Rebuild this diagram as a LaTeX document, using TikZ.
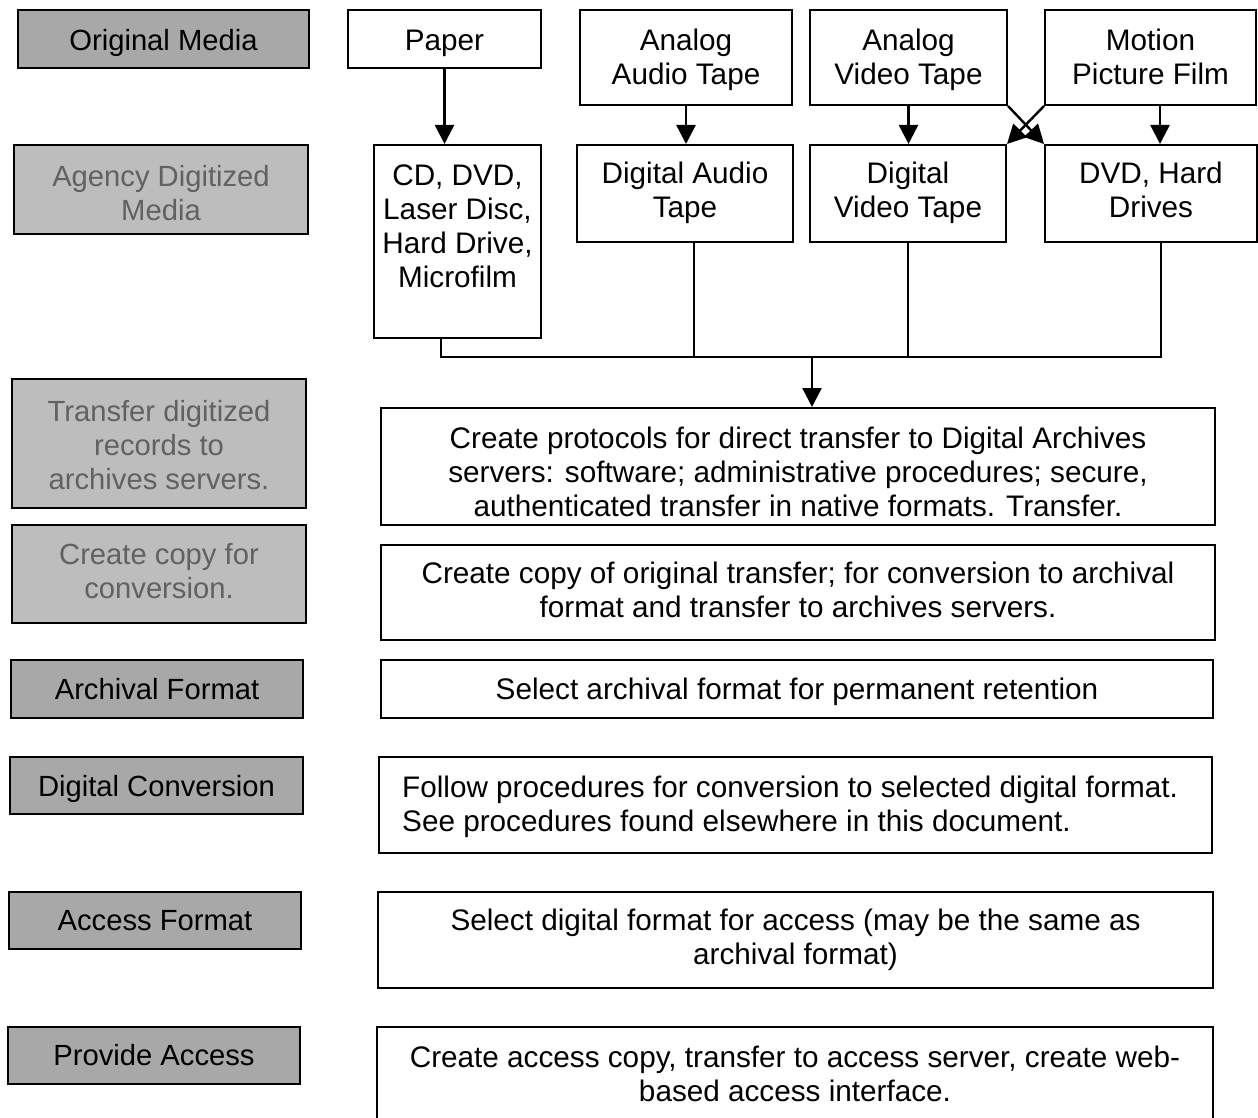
\documentclass[tikz,border=0pt]{standalone}
\usepackage{fontspec}
\setmainfont{Liberation Sans}
\usetikzlibrary{arrows.meta,calc}

\definecolor{labelfill}{gray}{0.66}
\definecolor{labelfilllight}{gray}{0.74}

% struts that give every text block the same height above its first line
% and depth below its last line, so that blocks centre evenly in their boxes
\newcommand\hstrut[1][28pt]{\rule{0pt}{#1}}
\newcommand\dstrut{\rule[-7pt]{0pt}{7pt}}

\tikzset{
  txt/.style={font=\fontsize{29.7pt}{34pt}\selectfont, align=center, inner sep=0pt},
  box/.style={txt, draw=black, line width=2pt, fill=white},
  stage/.style={txt, font=\fontsize{29.2pt}{34pt}\selectfont, draw=black, line width=2pt,
                fill=labelfill, text=black},
  stagelight/.style={stage, fill=labelfilllight, text=black!62},
  wire/.style={draw=black, line width=2.4pt},
  arr/.style={wire, -{Triangle[length=19pt,width=19pt]}},
}

\begin{document}
\begin{tikzpicture}[x=1pt,y=-1pt]
\clip (0,0) rectangle (1258,1118);
\fill[white] (0,0) rectangle (1258,1118);

% ---- stage labels (left column)
\node[stage, minimum width=291pt, minimum height=58pt] (s1) at (163.5,39) {\hstrut[30pt]Original Media\dstrut};
\node[stagelight, minimum width=294pt, minimum height=89pt] (s2) at (161,189.5) {\hstrut[35pt]Agency Digitized\\Media\dstrut};
\node[stagelight, minimum width=294pt, minimum height=129pt] (s3) at (159,443.5) {\hstrut[31pt]Transfer digitized\\records to\\archives servers.\dstrut};
\node[stagelight, minimum width=294pt, minimum height=98pt] (s4) at (159,574) {\hstrut[22pt]Create copy for\\conversion.\dstrut};
\node[stage, minimum width=292pt, minimum height=58pt] (s5) at (157,689) {\hstrut Archival Format\dstrut};
\node[stage, minimum width=293pt, minimum height=57pt] (s6) at (156.5,785.5) {\hstrut Digital Conversion\dstrut};
\node[stage, minimum width=292pt, minimum height=57pt] (s7) at (155,920.5) {\hstrut[26pt]Access Format\dstrut};
\node[stage, minimum width=292pt, minimum height=57pt] (s8) at (154,1055.5) {\hstrut[26pt]Provide Access\dstrut};

% ---- original media
\node[box, minimum width=193pt, minimum height=58pt] (paper) at (444.5,39) {\hstrut[30pt]Paper\dstrut};
\node[box, minimum width=212pt, minimum height=95pt] (aat) at (686,57.5) {\hstrut[27pt]Analog\\Audio Tape\dstrut};
\node[box, minimum width=197pt, minimum height=95pt] (avt) at (908.5,57.5) {\hstrut[27pt]Analog\\Video Tape\dstrut};
\node[box, minimum width=211pt, minimum height=95pt] (mpf) at (1150.5,57.5) {\hstrut[27pt]Motion\\Picture Film\dstrut};

% ---- agency digitized media
\node[box, minimum width=167pt, minimum height=193pt] (cd) at (457.5,241.5) {};
\node[txt] (cdt) at (457.5,225.5) {\hstrut CD, DVD,\\Laser Disc,\\Hard Drive,\\Microfilm\dstrut};
\node[box, minimum width=216pt, minimum height=97pt] (dat) at (685,193.5) {\hstrut[22pt]Digital Audio\\Tape\dstrut};
\node[box, minimum width=196pt, minimum height=97pt] (dvt) at (908,193.5) {\hstrut[22pt]Digital\\Video Tape\dstrut};
\node[box, minimum width=212pt, minimum height=97pt] (dvd) at (1151,193.5) {\hstrut[22pt]DVD, Hard\\Drives\dstrut};

% ---- process steps
\node[box, minimum width=834pt, minimum height=117pt] (proto) at (798,466.5)
  {\hstrut[39pt]Create protocols for direct transfer to Digital Archives\\servers: software; administrative procedures; secure,\\authenticated transfer in native formats. Transfer.\dstrut};
\node[box, minimum width=834pt, minimum height=95pt] (copy) at (798,592.5)
  {\hstrut[23pt]Create copy of original transfer; for conversion to archival\\format and transfer to archives servers.\dstrut};
\node[box, minimum width=832pt, minimum height=58pt] (arch) at (797,689)
  {\hstrut Select archival format for permanent retention\dstrut};
\node[box, minimum width=833pt, minimum height=96pt] (conv) at (795.5,805) {};
\node[txt, align=left, anchor=west] (convt) at (402,804)
  {\hstrut Follow\ procedures\ for\ conversion\ to\ selected\ digital\ format.\\See procedures found elsewhere in this document.\dstrut};
\node[box, minimum width=835pt, minimum height=96pt] (accf) at (795.5,940)
  {\hstrut[20pt]Select digital format for access (may be the same as\\archival format)\dstrut};
\node[box, minimum width=836pt, minimum height=120pt] (prov) at (795,1087) {};
\node[txt] (provt) at (795,1074)
  {\hstrut Create access copy, transfer to access server, create web-\\based access interface.\dstrut};

% ---- digitization arrows
\draw[arr] (paper.south) -- (paper.south |- cd.north);
\draw[arr] (aat.south) -- (aat.south |- dat.north);
\draw[arr] (avt.south) -- (avt.south |- dvt.north);
\draw[arr] ([xshift=9.5pt]mpf.south) -- ([xshift=9.5pt]mpf.south |- dvd.north);
\draw[arr] (avt.south east) -- (dvd.north west);
\draw[arr] (mpf.south west) -- (dvt.north east);

% ---- collector bus into the transfer step
\coordinate (busL) at (441,357);
\coordinate (busR) at (1161,357);
\coordinate (busM) at (812,357);
\draw[wire, line join=miter] (cd.south -| busL) -- (busL) -- (busR) -- (dvd.south -| busR);
\draw[wire] ([xshift=9pt]dat.south) -- ([xshift=9pt]dat.south |- busL);
\draw[wire] (dvt.south) -- (dvt.south |- busL);
\draw[arr] (busM) -- (proto.north -| busM);
\end{tikzpicture}
\end{document}
